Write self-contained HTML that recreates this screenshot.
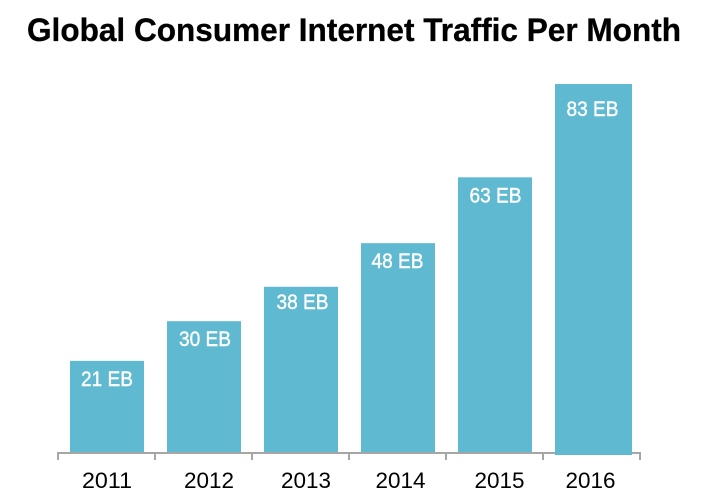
<!DOCTYPE html>
<html lang="en">
<head>
<meta charset="utf-8">
<title>Global Consumer Internet Traffic Per Month</title>
<style>
html,body{margin:0;padding:0;background:#fff;}
svg{display:block;}
text{font-family:"Liberation Sans",sans-serif;}
</style>
</head>
<body>
<svg id="chart" width="706" height="504" viewBox="0 0 706 504" xmlns="http://www.w3.org/2000/svg">
  <text x="27" y="41" font-size="32" font-weight="700" fill="#000" stroke="#000" stroke-width="0.3" textLength="654" lengthAdjust="spacingAndGlyphs">Global Consumer Internet Traffic Per Month</text>
</svg>
<script>
const categories = ['2011', '2012', '2013', '2014', '2015', '2016'];
const trafficValues = [20.9, 30, 37.9, 47.9, 63, 84.4];
const valueLabels = ['21 EB', '30 EB', '38 EB', '48 EB', '63 EB', '83 EB'];

const svg = document.getElementById('chart');
const NS = 'http://www.w3.org/2000/svg';
const axisLeft = 58, bandStep = 97, baseline = 452, pxPerUnit = 4.36, barWidth = 74;
/* hand-placement quirks of the source slide, keyed by category */
const tickLabelShift = { '2011': 0.5, '2012': 5.5, '2013': 5.5, '2014': 3, '2015': 5, '2016': -1 };
const valueLabelDrop = { '2013': 22, '2016': 32 };
const valueLabelShift = { '2011': 0.5, '2012': 1.5, '2013': 2, '2014': 0, '2015': 1, '2016': 1 };

function xBand(i) { return axisLeft + bandStep * i; }
function xCenter(i) { return xBand(i) + bandStep / 2; }
function yValue(v) { return baseline - v * pxPerUnit; }
function make(tag, attrs) {
  const el = document.createElementNS(NS, tag);
  for (const k in attrs) el.setAttribute(k, attrs[k]);
  return el;
}

const axisLine = make('line', {
  x1: xBand(0) - 1, x2: xBand(categories.length) + 1, y1: 453, y2: 453,
  stroke: '#a6a6a6', 'stroke-width': 2
});


svg.appendChild(axisLine);

for (let i = 0; i <= categories.length; i++) {
  const tick = make('line', {
    x1: xBand(i), x2: xBand(i), y1: 452, y2: 460,
    stroke: '#a6a6a6', 'stroke-width': 2
  });
  
  
  svg.appendChild(tick);
}

categories.forEach(function (cat, i) {
  const isLast = i === categories.length - 1;
  const top = yValue(trafficValues[i]);
  const left = Math.round(xCenter(i) - barWidth / 2 + 0.5);
  const bar = make('rect', {
    x: left,
    y: top,
    width: barWidth + (isLast ? 3 : 0),
    height: baseline - top + (isLast ? 3 : 0),
    fill: '#5fb9d0'
  });
  
  
  svg.appendChild(bar);

  const drop = valueLabelDrop[cat] !== undefined ? valueLabelDrop[cat] : 25;
  const label = make('text', {
    x: xCenter(i) + valueLabelShift[cat],
    y: top + drop,
    'text-anchor': 'middle',
    'font-size': 21,
    fill: '#fff',
    stroke: '#fff',
    'stroke-width': 0.4,
    textLength: 52,
    lengthAdjust: 'spacingAndGlyphs'
  });
  
  
  label.textContent = valueLabels[i];
  svg.appendChild(label);

  const tickLabel = make('text', {
    x: xCenter(i) + tickLabelShift[cat],
    y: 488,
    'text-anchor': 'middle',
    'font-size': 22,
    fill: '#000',
    textLength: 50,
    lengthAdjust: 'spacingAndGlyphs'
  });
  
  
  tickLabel.textContent = cat;
  svg.appendChild(tickLabel);
});
</script>
</body>
</html>
